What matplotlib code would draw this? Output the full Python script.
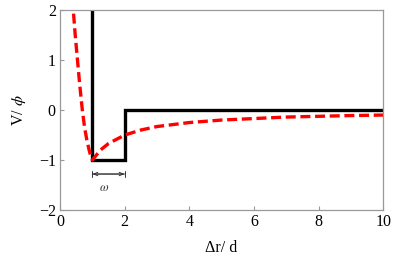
import matplotlib
matplotlib.use('Agg')
import matplotlib.pyplot as plt

# square well potential
well_x = [1.0, 1.0, 2.0, 2.0, 10.0]
well_y = [2.5, -1.0, -1.0, 0.0, 0.0]

# soft potential
soft_x = [0.39, 0.41, 0.47, 0.54, 0.61, 0.69, 0.76, 0.83, 0.90, 0.95, 1.0,
          1.25, 1.5, 2.0, 2.5, 3.0, 4.0, 5.0, 6.0, 7.0, 8.0, 9.0, 10.0]
soft_y = [2.3, 2.0, 1.5, 1.0, 0.5, 0.0, -0.35, -0.6, -0.8, -0.92, -1.0,
          -0.8, -0.67, -0.5, -0.4, -0.33, -0.25, -0.2, -0.17, -0.14, -0.125, -0.11, -0.1]

xticks = [0, 2, 4, 6, 8, 10]
yticks = [-2, -1, 0, 1, 2]

plt.rcParams['font.family'] = ['Liberation Serif', 'DejaVu Serif']
plt.rcParams['mathtext.fontset'] = 'stix'

fig = plt.figure(figsize=(3.95, 2.66), dpi=100)
ax = fig.add_axes([0.152, 0.2105, 0.818, 0.7515])

ax.plot(well_x, well_y, color='black', lw=2.4, solid_joinstyle='miter')
ax.plot(soft_x, soft_y, color='red', lw=2.4, ls=(0, (3.0, 1.4)))

# width of the well
ax.annotate('', xy=(1.0, -1.28), xytext=(2.0, -1.28),
            arrowprops=dict(arrowstyle='|-|,widthA=0.2,widthB=0.2', lw=0.7, color='#333333',
                            shrinkA=0, shrinkB=0))
ax.annotate('', xy=(1.0, -1.28), xytext=(2.0, -1.28),
            arrowprops=dict(arrowstyle='<->,head_length=0.3,head_width=0.12', lw=0.7, color='#333333',
                            shrinkA=0, shrinkB=0))
ax.text(1.36, -1.56, r'$\omega$', fontsize=9, ha='center', va='center', color='#333333')

ax.set_xlim(0, 10)
ax.set_ylim(-2, 2)
ax.set_xticks(xticks)
ax.set_yticks(yticks)
ax.tick_params(direction='in', length=3, color='#999999', labelsize=11.5, pad=3)
for s in ax.spines.values():
    s.set_color('#999999')
    s.set_linewidth(0.9)

ax.set_xlabel('Δr/ d', fontsize=11.5, labelpad=7)
ax.set_ylabel('V/ $\\phi$', fontsize=11.5, labelpad=8)

fig.savefig('out.png', dpi=100)
